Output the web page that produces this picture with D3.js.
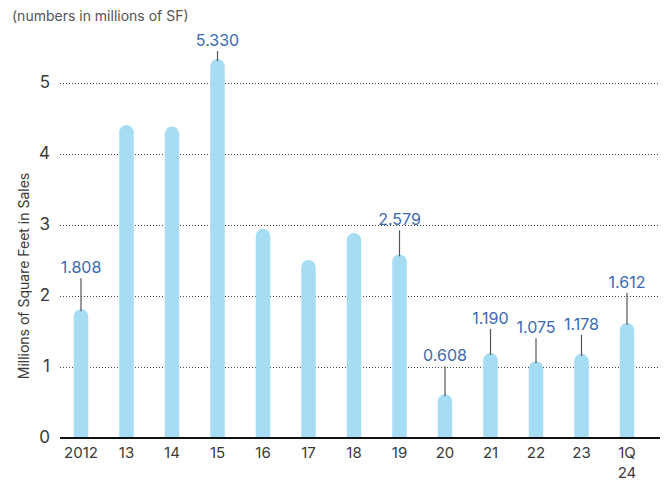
<!DOCTYPE html>
<html>
<head>
<meta charset="utf-8">
<script src="https://cdn.jsdelivr.net/npm/d3@7"></script>
<style>
  html, body { margin: 0; padding: 0; background: #fff; }
  svg { display: block; font-family: "Inter", "Liberation Sans", sans-serif; }
</style>
</head>
<body>
<svg id="chart" width="667" height="482"></svg>
<script>
// Annual sales volume, millions of square feet
const categories = ["2012", "13", "14", "15", "16", "17", "18", "19", "20", "21", "22", "23", "1Q\n24"];
const values = [1.808, 4.40, 4.38, 5.330, 2.94, 2.50, 2.88, 2.579, 0.608, 1.190, 1.075, 1.178, 1.612];
// which bars carry a value callout
const labelled = [true, false, false, true, false, false, false, true, true, true, true, true, true];
const yTicks = [0, 1, 2, 3, 4, 5];

// callout leader length above each labelled bar (px)
const leaderLength = [31, 0, 0, 8, 0, 0, 0, 24, 28, 24, 23, 19, 30];

const svg = d3.select("#chart");

const plotLeft = 60, plotRight = 660;
const y = d3.scaleLinear().domain([0, 5]).range([437.5, 82.5]);
const x = d3.scalePoint().domain(categories).range([81, 627]);
const barWidth = 14.5;

const barColor = "#a7dcf5";
const labelColor = "#3a69b3";
const textColor = "#3a3a3a";

// subtitle
svg.append("text")
  .attr("x", 12).attr("y", 21)
  .attr("font-size", 14).attr("fill", "#555")
  .text("(numbers in millions of SF)");

// y axis title
svg.append("text")
  .attr("transform", `translate(29,${276}) rotate(-90)`)
  .attr("text-anchor", "middle")
  .attr("font-size", 14).attr("fill", textColor)
  .text("Millions of Square Feet in Sales");

// dotted gridlines
svg.append("g").selectAll("line")
  .data(yTicks.filter(t => t > 0))
  .join("line")
  .attr("x1", plotLeft).attr("x2", plotRight)
  .attr("y1", d => Math.round(y(d)) + 0.5).attr("y2", d => Math.round(y(d)) + 0.5)
  .attr("stroke", "#444").attr("stroke-width", 1)
  .attr("stroke-dasharray", "1,2");

// y tick labels
const yAxis = d3.axisLeft(y).tickValues(yTicks).tickSize(0).tickPadding(0).tickFormat(d3.format("d"));
const yAxisG = svg.append("g").attr("transform", "translate(50,0)").call(yAxis);
yAxisG.select(".domain").remove();
yAxisG.selectAll("text")
  .attr("font-size", 17).attr("fill", textColor)
  .attr("font-family", "Inter, sans-serif");

// bars with rounded tops
const barPath = (cx, v) => {
  const r = barWidth / 2;
  const top = y(v), base = y(0);
  const l = cx - r, rt = cx + r;
  return `M${l},${base}L${l},${top + r}A${r},${r} 0 0 1 ${rt},${top + r}L${rt},${base}Z`;
};
svg.append("g").selectAll("path")
  .data(categories)
  .join("path")
  .attr("d", (c, i) => barPath(x(c), values[i]))
  .attr("fill", barColor);

// baseline
svg.append("line")
  .attr("x1", plotLeft).attr("x2", plotRight)
  .attr("y1", y(0) + 0.5).attr("y2", y(0) + 0.5)
  .attr("stroke", "#111").attr("stroke-width", 2);

// x tick labels (multi-line supported)
const xLab = svg.append("g").selectAll("text")
  .data(categories)
  .join("text")
  .attr("text-anchor", "middle")
  .attr("font-size", 15).attr("fill", textColor);
xLab.each(function (c) {
  const lines = c.split("\n");
  d3.select(this).selectAll("tspan")
    .data(lines)
    .join("tspan")
    .attr("x", x(c))
    .attr("y", (d, k) => 458 + k * 20)
    .text(d => d);
});

// value callouts
const callouts = categories.map((c, i) => ({ c, v: values[i], len: leaderLength[i] }))
  .filter((d, i) => labelled[i]);
const cg = svg.append("g");
cg.selectAll("line")
  .data(callouts)
  .join("line")
  .attr("x1", d => x(d.c)).attr("x2", d => x(d.c))
  .attr("y1", d => y(d.v) + 2).attr("y2", d => y(d.v) - d.len)
  .attr("stroke", "#555").attr("stroke-width", 1.2);
cg.selectAll("text")
  .data(callouts)
  .join("text")
  .attr("x", d => x(d.c))
  .attr("y", d => y(d.v) - d.len - 5)
  .attr("text-anchor", "middle")
  .attr("font-size", 16).attr("fill", labelColor)
  .text(d => d3.format(".3f")(d.v));
</script>
</body>
</html>
